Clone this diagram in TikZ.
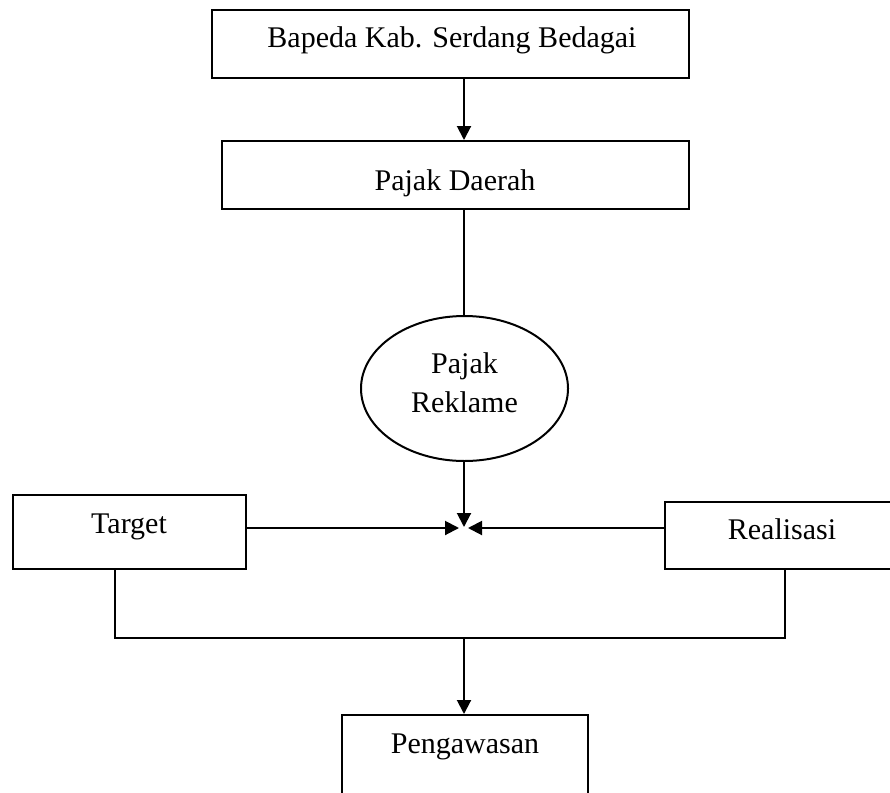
\documentclass[tikz,border=0pt]{standalone}
\usepackage{fontspec}
\setmainfont{Liberation Serif}
\usetikzlibrary{arrows.meta,shapes.geometric}
\begin{document}
\begin{tikzpicture}[x=1pt,y=-1pt,
  boxstyle/.style={draw,line width=2pt,rectangle,inner sep=0pt},
  txt/.style={anchor=base,inner sep=0pt,font=\fontsize{30}{39}\selectfont},
  conn/.style={line width=2pt},
  arr/.style={conn,-{Triangle[length=14pt,width=14pt]}}]
\useasboundingbox (0,0) rectangle (890,792);
\fill[white] (0,0) rectangle (890,792);
% boxes
\node[boxstyle,minimum width=477pt,minimum height=68pt] (bap) at (450.5,44) {};
\node[txt] (bapt) at (452,48) {Bapeda Kab. Serdang Bedagai};
\node[boxstyle,minimum width=467pt,minimum height=68pt] (pd) at (455.5,175) {};
\node[txt] (pdt) at (455,190) {Pajak Daerah};
\node[draw,line width=2pt,ellipse,inner sep=0pt,minimum width=207pt,minimum height=145pt] (pr) at (464.5,388.5) {};
\node[txt] (prt1) at (464.5,373) {Pajak};
\node[txt] (prt2) at (464.5,412) {Reklame};
\node[boxstyle,minimum width=233pt,minimum height=74pt] (tg) at (129.5,532) {};
\node[txt] (tgt) at (129,533) {Target};
\node[boxstyle,minimum width=227pt,minimum height=67pt] (rl) at (778.5,535.5) {};
\node[txt] (rlt) at (782,539) {Realisasi};
\node[boxstyle,minimum width=246pt,minimum height=90pt] (pg) at (465,760) {};
\node[txt] (pgt) at (465,753) {Pengawasan};
% coordinates
\coordinate (mT) at (464,527);
\coordinate (mL) at (459,528);
\coordinate (mR) at (468,528);
\coordinate (jL) at (115,638);
\coordinate (jR) at (785,638);
\coordinate (jM) at (464,638);
% connectors
\draw[arr] (bap.south -| mT) -- (pd.north -| mT);
\draw[conn] (pd.south -| mT) -- (pr.north -| mT);
\draw[arr] (pr.south -| mT) -- (mT);
\draw[arr] (tg.east |- mL) -- (mL);
\draw[arr] (rl.west |- mR) -- (mR);
\draw[conn] (tg.south -| jL) -- (jL) -- (jR) -- (rl.south -| jR);
\draw[arr] (jM) -- (pg.north -| jM);
\end{tikzpicture}
\end{document}
